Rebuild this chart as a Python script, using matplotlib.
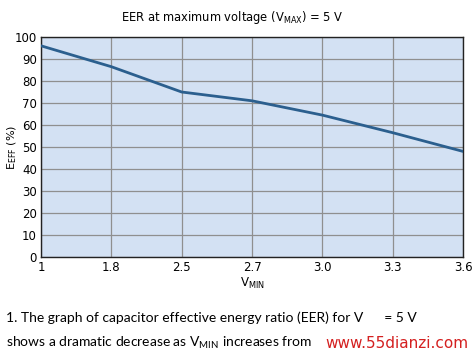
import numpy as np
import matplotlib.pyplot as plt

# datos
vmin_labels = ["1", "1.8", "2.5", "2.7", "3.0", "3.3", "3.6"]
eer = [96, 86.5, 75, 71, 64.5, 56.5, 48]
y_ticks = [0, 10, 20, 30, 40, 50, 60, 70, 80, 90, 100]

plt.rcParams['font.family'] = ['DejaVu Sans']

fig = plt.figure(figsize=(4.73, 3.56), dpi=100)
fig.patch.set_facecolor("white")
ax = fig.add_axes([41/473, 1-257/356, 422/473, 220/356])
ax.set_facecolor("#d3e1f3")

x = np.arange(len(vmin_labels))
ax.plot(x, eer, color="#2b5f8e", lw=2.0, zorder=3)

ax.set_xlim(0, len(vmin_labels)-1)
ax.set_ylim(0, 100)
ax.set_xticks(x)
ax.set_xticklabels(vmin_labels, fontsize=8.5)
ax.set_yticks(y_ticks)
ax.set_yticklabels([str(v) for v in y_ticks], fontsize=8.5)
ax.tick_params(length=0, pad=3)
ax.grid(True, color="#8f8f8f", lw=0.9)
for s in ax.spines.values():
    s.set_color("#222222")
    s.set_linewidth(1.0)

fig.text(232/473, 1-17/356, r"EER at maximum voltage (V$_{\mathregular{MAX}}$) = 5 V",
         fontsize=8.3, ha="center", va="center")
ax.set_xlabel(r"V$_{\mathregular{MIN}}$", fontsize=8.5, labelpad=1)
ax.set_ylabel(r"E$_{\mathregular{EFF}}$ (%)", fontsize=8, va="center")
ax.yaxis.set_label_coords(-0.068, 0.5)

# pie de figura y marca de agua
fig.text(6/473, 1-318/356, "1. The graph of capacitor effective energy ratio (EER) for V      = 5 V",
         fontsize=10, va="center", family="Lato")
fig.text(6/473, 1-343/356, r"shows a dramatic decrease as V$_{\mathregular{MIN}}$ increases from",
         fontsize=10, va="center", family="Lato")
fig.patches.append(plt.Rectangle((335/473, 1-354/356), 138/473, 22/356, transform=fig.transFigure,
                                 facecolor="white", edgecolor="none", zorder=4))
fig.text(468/473, 1-343/356, "www.55dianzi.com", fontsize=11, color="#d42020",
         va="center", ha="right", zorder=5)

fig.savefig("out.png", dpi=100)
